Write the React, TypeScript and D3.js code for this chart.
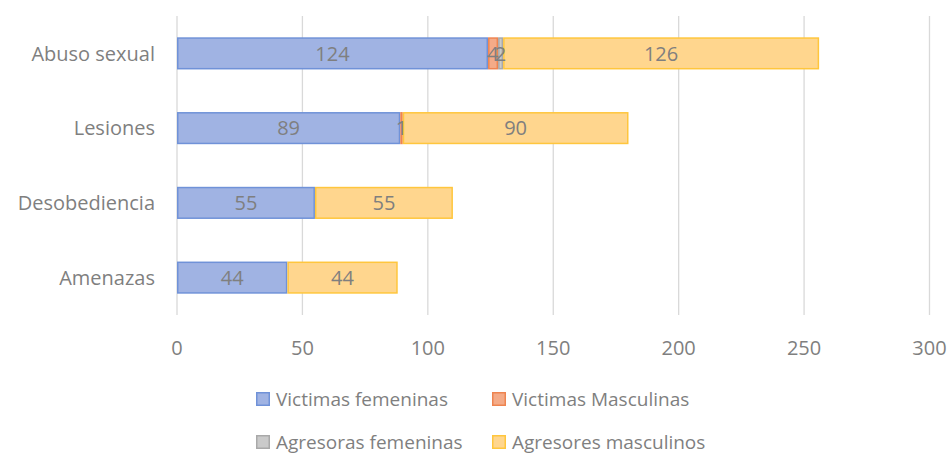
import React from 'react';
import * as d3 from 'd3';

const categories = ['Abuso sexual', 'Lesiones', 'Desobediencia', 'Amenazas'];
const victimasFemeninas = [124, 89, 55, 44];
const victimasMasculinas = [4, 1, 0, 0];
const agresorasFemeninas = [2, 0, 0, 0];
const agresoresMasculinos = [126, 90, 55, 44];
const seriesNames = ['Victimas femeninas', 'Victimas Masculinas', 'Agresoras femeninas', 'Agresores masculinos'];
const xTicks = [0, 50, 100, 150, 200, 250, 300];

const fills = ['#a0b3e3', '#f4ab88', '#cacaca', '#ffd68e'];
const strokes = ['#7092d8', '#ee8450', '#a9a9a9', '#ffc63d'];
const textColor = '#7f7f7f';
const font = "'Open Sans', sans-serif";

export default function App() {
  const width = 950;
  const height = 456;

  const rows = categories.map((c, i) => ({
    cat: c,
    s0: victimasFemeninas[i],
    s1: victimasMasculinas[i],
    s2: agresorasFemeninas[i],
    s3: agresoresMasculinos[i],
  }));
  const keys = ['s0', 's1', 's2', 's3'];
  const stacked = d3.stack<any>().keys(keys)(rows);

  const x = d3.scaleLinear().domain([0, 300]).range([177, 929.5]);
  const y = d3.scaleBand().domain(categories).range([16, 315]).paddingInner(0.57).paddingOuter(0.285);

  const legendPos = [
    { x: 256, y: 392 },
    { x: 492, y: 392 },
    { x: 256, y: 435 },
    { x: 492, y: 435 },
  ];

  return (
    <div style={{ position: 'absolute', left: 0, top: 0 }}>
      <svg width={width} height={height} style={{ display: 'block', background: '#fff' }}>
        {/* grid */}
        {xTicks.map(t => (
          <line key={t} x1={x(t)} x2={x(t)} y1={16} y2={315} stroke="#d9d9d9" strokeWidth={1.3} />
        ))}
        {/* bars */}
        {stacked.map((layer, si) => (
          <g key={si}>
            {layer.map((d, i) => {
              const w = x(d[1]) - x(d[0]);
              if (w <= 0) return null;
              return (
                <rect key={i} x={x(d[0]) + 0.75} y={(y(categories[i]) as number) + 0.75}
                  width={Math.max(0, w - 1.5)} height={y.bandwidth() - 1.5}
                  fill={fills[si]} stroke={strokes[si]} strokeWidth={1.5} />
              );
            })}
          </g>
        ))}
        {/* value labels */}
        {stacked.map((layer, si) => (
          <g key={'l' + si}>
            {layer.map((d, i) => {
              const v = d[1] - d[0];
              if (v <= 0) return null;
              return (
                <text key={i} x={(x(d[0]) + x(d[1])) / 2} y={(y(categories[i]) as number) + y.bandwidth() / 2}
                  dy="0.36em" textAnchor="middle" fontFamily={font} fontSize={20} fill={textColor}>{v}</text>
              );
            })}
          </g>
        ))}
        {/* category labels */}
        {categories.map(c => (
          <text key={c} x={155} y={(y(c) as number) + y.bandwidth() / 2} dy="0.36em" textAnchor="end"
            fontFamily={font} fontSize={20} fill={textColor}>{c}</text>
        ))}
        {/* x tick labels */}
        {xTicks.map(t => (
          <text key={t} x={x(t)} y={348} dy="0.36em" textAnchor="middle" fontFamily={font} fontSize={20} fill={textColor}>{t}</text>
        ))}
        {/* legend */}
        {seriesNames.map((n, i) => (
          <g key={n} transform={`translate(${legendPos[i].x},${legendPos[i].y})`}>
            <rect x={0.75} y={0.75} width={12.5} height={12.5} fill={fills[i]} stroke={strokes[i]} strokeWidth={1.5} />
            <text x={20} y={7} dy="0.36em" fontFamily={font} fontSize={19} fill={textColor}>{n}</text>
          </g>
        ))}
      </svg>
    </div>
  );
}
